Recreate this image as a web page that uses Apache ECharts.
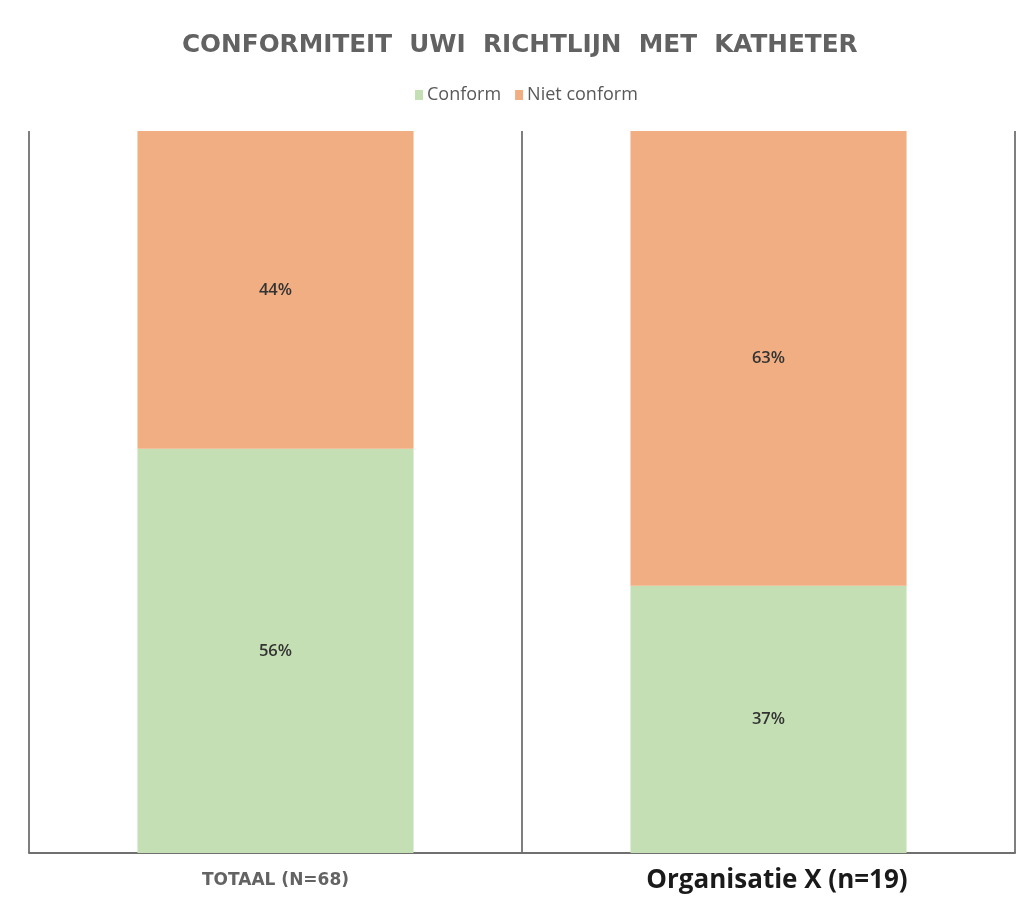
<!DOCTYPE html>
<html><head><meta charset="utf-8">
<script src="https://cdn.jsdelivr.net/npm/echarts@6/dist/echarts.min.js"></script>
<style>html,body{margin:0;padding:0;background:#fff}#c{width:1026px;height:899px}</style>
</head><body><div id="c"></div>
<script>
const categories = ['TOTAAL (N=68)', 'Organisatie X (n=19)'];
const conform = [56, 37];
const nietConform = [44, 63];
const seriesNames = ['Conform', 'Niet conform'];

const chart = echarts.init(document.getElementById('c'));
chart.setOption({
  animation: false,
  backgroundColor: '#fff',
  title: {
    text: 'CONFORMITEIT  UWI  RICHTLIJN  MET  KATHETER',
    left: 177, top: 28,
    textStyle: { fontFamily: 'DejaVu Sans', fontSize: 24.7, fontWeight: 'bold', color: '#626262' }
  },
  legend: {
    data: seriesNames, top: 81, left: 410,
    itemWidth: 8, itemHeight: 10, itemGap: 14, icon: 'rect',
    textStyle: { fontFamily: 'Open Sans', fontSize: 18, color: '#595959', padding: [0, 0, 0, -1] }
  },
  grid: { left: 29, right: 11, top: 131, bottom: 46 },
  xAxis: {
    type: 'category', data: categories,
    axisLine: { lineStyle: { color: '#6f6f6f', width: 2 } },
    axisTick: { show: false },
    splitLine: { show: true, lineStyle: { color: '#7f7f7f', width: 2 } },
    axisLabel: {
      margin: 14,
      formatter: function (v, i) { return i === 0 ? '{a|' + v + '}' : '{b|' + v + '}'; },
      rich: {
        a: { fontFamily: 'DejaVu Sans', fontSize: 17, fontWeight: 'bold', color: '#636363', lineHeight: 28 },
        b: { fontFamily: 'Open Sans', fontSize: 26, fontWeight: 'bold', color: '#1a1a1a', lineHeight: 28, padding: [0, 0, 0, 17] }
      }
    }
  },
  yAxis: { type: 'value', min: 0, max: 100, show: false, splitLine: { show: false } },
  series: [
    { name: seriesNames[0], type: 'bar', stack: 's', data: conform, barWidth: '56%',
      itemStyle: { color: '#C5DFB4' },
      label: { show: true, position: 'inside', formatter: '{c}%', fontFamily: 'Open Sans', fontSize: 16.5, fontWeight: 600, color: '#333' } },
    { name: seriesNames[1], type: 'bar', stack: 's', data: nietConform, barWidth: '56%',
      itemStyle: { color: '#F0AE82' },
      label: { show: true, position: 'inside', formatter: '{c}%', fontFamily: 'Open Sans', fontSize: 16.5, fontWeight: 600, color: '#333' } }
  ]
});
</script></body></html>
